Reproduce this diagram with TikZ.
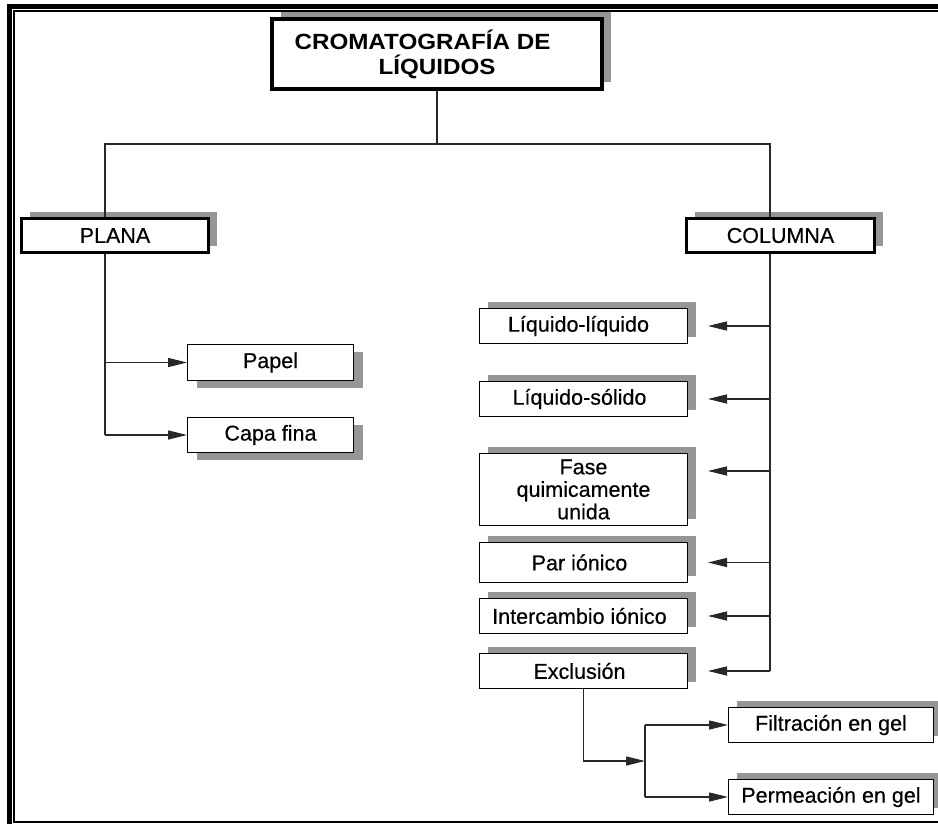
\documentclass[tikz,border=0pt]{standalone}
\usepackage{fontspec}
\setmainfont{Liberation Sans}[FakeBold=0.4]
\newfontfamily\titlefont[FakeStretch=1.1]{Liberation Sans}
\usetikzlibrary{arrows.meta,shadows}
\definecolor{shadowgray}{RGB}{150,150,150}
\definecolor{linegray}{RGB}{40,40,40}
\begin{document}
\begin{tikzpicture}[x=1pt,y=-1pt,
  box/.style={draw=black, fill=white, line width=1.3pt, inner sep=0pt, align=center,
              font=\fontsize{21.5}{22.5}\selectfont},
  upsh/.style={drop shadow={shadow xshift=8.5pt, shadow yshift=6.5pt, fill=shadowgray, opacity=1}},
  dnsh/.style={drop shadow={shadow xshift=9.5pt, shadow yshift=-7.5pt, fill=shadowgray, opacity=1}},
  conn/.style={draw=linegray, line width=1.3pt},
  arr/.style={conn, -{Triangle[length=19pt,width=9pt]}},
  rbox/.style={box, upsh, minimum width=207.7pt, minimum height=34.7pt},
]
\useasboundingbox (0,0) rectangle (938,824);
\begin{scope}
  \clip (0,0) rectangle (938,824);
  \draw[line width=5pt] (9.5,6.5) rectangle (960,850);
  \draw[line width=2pt] (14,11) rectangle (960,822);
\end{scope}

% top level
\node[box, line width=4pt, upsh, minimum width=330pt, minimum height=70pt,
      font=\titlefont\bfseries\fontsize{22}{25}\selectfont] (title) at (437,54)
      {CROMATOGRAFÍA DE\hspace*{29pt}\\LÍQUIDOS};
\node[box, line width=3pt, upsh, minimum width=187pt, minimum height=34pt] (plana) at (115,235.5) {PLANA};
\node[box, line width=3pt, upsh, minimum width=188pt, minimum height=34pt] (colum) at (780.5,235.5) {COLUMNA};

% plana children
\node[box, dnsh, minimum width=165.7pt, minimum height=35.7pt] (papel) at (270.5,362.5) {Papel};
\node[box, dnsh, minimum width=165.7pt, minimum height=35pt] (capa) at (270.5,435) {Capa fina};

% columna children
\node[rbox] (ll) at (583.5,326) {Líquido-líquido\hspace*{10pt}};
\node[rbox] (ls) at (583.5,399) {Líquido-sólido\hspace*{8pt}};
\node[rbox, minimum height=71.7pt] (fase) at (583.5,489.5) {Fase\\quimicamente\\unida};
\node[rbox, minimum height=39.7pt] (par) at (583.5,562.5) {Par iónico\hspace*{8pt}};
\node[rbox] (inter) at (583.5,616) {Intercambio iónico\hspace*{8pt}};
\node[rbox] (excl) at (583.5,671) {Exclusión\hspace*{8pt}};

% exclusion children
\node[box, upsh, minimum width=204.7pt, minimum height=34.7pt] (filt) at (831,725) {Filtración en gel};
\node[box, upsh, minimum width=204.7pt, minimum height=34.7pt] (perm) at (831,797) {Permeación en gel};

% connectors
\coordinate (tj) at (437,144);
\coordinate (pl) at (105,144);
\coordinate (cl) at (770,144);
\draw[conn] (title.south) -- (tj);
\draw[conn] (pl |- plana.north) -- (pl) -- (cl) -- (cl |- colum.north);

\draw[conn] (pl |- plana.south) -- (pl |- capa.west);
\draw[arr] (pl |- papel.west) -- (papel.west);
\draw[arr] (pl |- capa.west) -- (capa.west);

\draw[conn] (cl |- colum.south) -- (cl |- excl.east);
\coordinate (t1) at ([xshift=20pt]ll.east);
\coordinate (t2) at ([xshift=20pt]ls.east);
\coordinate (t3) at ([xshift=20pt,yshift=-18pt]fase.north east);
\coordinate (t4) at ([xshift=20pt]par.east);
\coordinate (t5) at ([xshift=20pt]inter.east);
\coordinate (t6) at ([xshift=20pt]excl.east);
\foreach \t in {t1,t2,t3,t4,t5,t6} { \draw[arr] (cl |- \t) -- (\t); }

\coordinate (sp) at (645,761);
\draw[arr] (excl.south) |- (sp);
\draw[conn] (sp |- filt.west) -- (sp |- perm.west);
\draw[arr] (sp |- filt.west) -- (filt.west);
\draw[arr] (sp |- perm.west) -- (perm.west);
\end{tikzpicture}
\end{document}
